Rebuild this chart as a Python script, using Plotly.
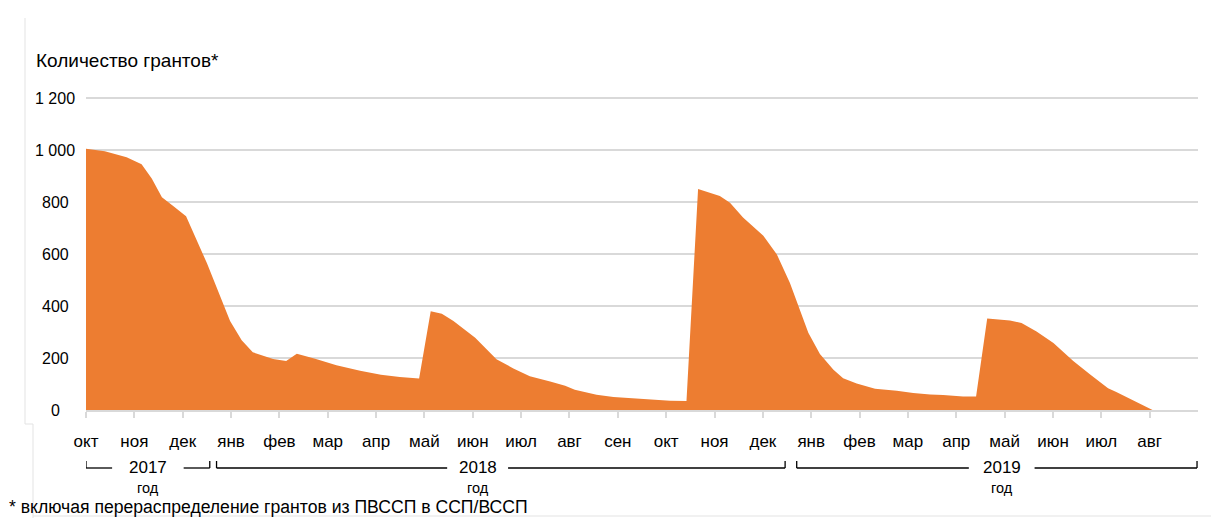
import plotly.graph_objects as go

# ---- data ----
month_labels = ["окт", "ноя", "дек", "янв", "фев", "мар", "апр", "май", "июн", "июл",
                "авг", "сен", "окт", "ноя", "дек", "янв", "фев", "мар", "апр", "май",
                "июн", "июл", "авг"]
# position in months since start of Oct 2017
month_pos = [0.00, 0.39, 0.84, 1.15, 1.36, 1.57, 1.81, 2.07, 2.50, 2.98, 3.22, 3.45,
             3.87, 4.14, 4.36, 4.74, 5.18, 5.53, 5.67, 6.10, 6.49, 6.89,
             7.13, 7.36, 7.60, 8.05, 8.49, 8.84, 9.18, 9.60, 9.91, 10.11, 10.56,
             10.91, 11.46, 11.73, 12.08, 12.42,
             12.66, 13.11, 13.32, 13.59, 14.01, 14.29, 14.56, 14.94, 15.18, 15.46,
             15.66, 15.94, 16.32, 16.77, 17.11, 17.46, 17.73, 18.14, 18.41,
             18.64, 19.11, 19.35, 19.66, 20.01, 20.42, 20.77, 21.14, 21.31, 21.66, 22.06]
grants = [1005, 995, 972, 945, 890, 818, 784, 745, 565, 342, 268, 222,
          196, 188, 216, 197, 172, 155, 151, 136, 127, 121,
          380, 370, 342, 278, 195, 160, 130, 110, 93, 78, 59,
          50, 43, 42, 36, 35,
          850, 823, 797, 740, 670, 598, 488, 297, 215, 155,
          122, 102, 82, 74, 65, 60, 58, 52, 52,
          352, 344, 335, 302, 258, 188, 137, 84, 69, 38, 0]
y_ticks = [0, 200, 400, 600, 800, 1000, 1200]
y_tick_text = ["0", "200", "400", "600", "800", "1 000", "1 200"]
years = ["2017", "2018", "2019"]
year_start = [0.0, 2.70, 14.70]
year_end = [2.56, 14.46, 22.98]
year_center = [1.28, 8.10, 18.94]
year_gap = [0.74, 0.63, 0.68]

ORANGE = "#ED7D31"
FONT = "Liberation Sans, Arial, sans-serif"

# page body adds an 8px offset at top/left; compensate so the picture lands at target pixels
OFF = 8
W, H = 1219 - OFF, 518 - OFF
L, R, T, B = 86 - OFF, 21, 94 - OFF, 108
Y_MAX = 1215.4  # a little headroom so the 1 200 gridline is drawn


def px(pix):
    return (pix - OFF - L) / (W - L - R)


def py(pix):
    return (H - B - (pix - OFF)) / (H - T - B)


fig = go.Figure()
fig.add_trace(go.Scatter(
    x=month_pos, y=grants, mode="lines", line=dict(width=0, color=ORANGE),
    fill="tozeroy", fillcolor=ORANGE, hoverinfo="x+y", showlegend=False))

fig.update_layout(
    width=W, height=H,
    margin=dict(l=L, r=R, t=T, b=B),
    paper_bgcolor="white", plot_bgcolor="white",
    font=dict(family=FONT, size=16, color="#000000"),
    xaxis=dict(range=[0, 23], tickmode="array",
               tickvals=list(range(len(month_labels))), ticktext=month_labels,
               showgrid=False, zeroline=False, showline=True, linecolor="#d9d9d9",
               linewidth=1.5, ticks="outside", ticklen=6, tickcolor="#d9d9d9",
               tickwidth=1.5, ticklabelstandoff=9, fixedrange=True,
               tickfont=dict(size=17, family=FONT, color="#000")),
    yaxis=dict(range=[0, Y_MAX], tickvals=y_ticks, showticklabels=False,
               showgrid=True, gridcolor="#d9d9d9", gridwidth=1.5, zeroline=False,
               showline=False, fixedrange=True),
)

annotations = []
# y tick labels, centered like the reference
for v, t in zip(y_ticks, y_tick_text):
    annotations.append(dict(x=px(55), xref="paper", y=v, yref="y", text=t,
                            showarrow=False, xanchor="center", yanchor="middle",
                            font=dict(size=16, family=FONT, color="#000")))
# title
annotations.append(dict(x=px(34), xref="paper", y=py(60), yref="paper",
                        text="Количество грантов*",
                        showarrow=False, xanchor="left", yanchor="middle",
                        font=dict(size=19, family=FONT, color="#000")))
# footnote
annotations.append(dict(x=px(8), xref="paper", y=py(518), yref="paper",
                        text="* включая перераспределение грантов из ПВССП в ССП/ВССП",
                        showarrow=False, xanchor="left", yanchor="bottom", borderpad=0,
                        font=dict(size=17.6, family=FONT, color="#000")))

shapes = []
line_y = py(468)
tick_top = py(461)
for name, s, e, c, g in zip(years, year_start, year_end, year_center, year_gap):
    lw = dict(color="#000", width=1.3)
    shapes.append(dict(type="line", xref="x", yref="paper", x0=s, x1=c - g, y0=line_y, y1=line_y, line=lw))
    shapes.append(dict(type="line", xref="x", yref="paper", x0=c + g, x1=e, y0=line_y, y1=line_y, line=lw))
    shapes.append(dict(type="line", xref="x", yref="paper", x0=s, x1=s, y0=line_y, y1=tick_top, line=lw))
    shapes.append(dict(type="line", xref="x", yref="paper", x0=e, x1=e, y0=line_y, y1=tick_top, line=lw))
    annotations.append(dict(x=c, xref="x", y=py(467), yref="paper", text=name, showarrow=False,
                            xanchor="center", yanchor="middle",
                            font=dict(size=17, family=FONT, color="#000")))
    annotations.append(dict(x=c, xref="x", y=py(487.5), yref="paper", text="год", showarrow=False,
                            xanchor="center", yanchor="middle", borderpad=0,
                            font=dict(size=14.5, family=FONT, color="#000")))

# faint slide frame lines
frame = dict(color="#e3e3e3", width=1)
shapes.append(dict(type="line", xref="paper", yref="paper", x0=px(25), x1=px(25), y0=py(18), y1=py(424), line=frame))
shapes.append(dict(type="line", xref="paper", yref="paper", x0=px(25), x1=px(33), y0=py(424), y1=py(424), line=frame))
shapes.append(dict(type="line", xref="paper", yref="paper", x0=px(33), x1=px(33), y0=py(424), y1=py(518), line=frame))
shapes.append(dict(type="line", xref="paper", yref="paper", x0=px(33), x1=px(1219), y0=py(516), y1=py(516), line=frame))

fig.update_layout(annotations=annotations, shapes=shapes)

fig.write_html("out.html")
